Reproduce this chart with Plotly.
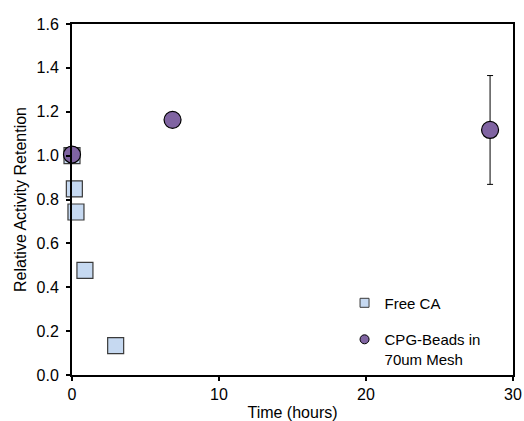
import plotly.graph_objects as go

free_t = [0.0, 0.16, 0.27, 0.88, 2.97]
free_v = [1.0, 0.848, 0.743, 0.477, 0.134]

cpg_t = [0.0, 6.84, 28.44]
cpg_v = [1.005, 1.163, 1.117]
cpg_err = [0.0, 0.0, 0.248]

free_name = "Free CA"
cpg_name = "CPG-Beads in<br>70um Mesh"

sq_fill = "#c6d9f1"
sq_line = "#3a3a3a"
circ_fill = "#8064a2"
FONT = "Liberation Sans, Arial, Helvetica"

fig = go.Figure()
fig.add_trace(go.Scatter(
    x=free_t, y=free_v, mode="markers", showlegend=False, cliponaxis=False,
    marker=dict(symbol="square", size=16, color=sq_fill, line=dict(color=sq_line, width=1.2)),
))
fig.add_trace(go.Scatter(
    x=cpg_t, y=cpg_v, mode="markers", showlegend=False, cliponaxis=False,
    marker=dict(symbol="circle", size=17, color=circ_fill, line=dict(color="black", width=1.2)),
    error_y=dict(type="data", array=cpg_err, visible=True, color="black", thickness=1, width=3),
))
# legend entries
fig.add_trace(go.Scatter(
    x=[None], y=[None], mode="markers", name=free_name, legendgroup="a",
    marker=dict(symbol="square", size=9, color=sq_fill, line=dict(color=sq_line, width=1)),
))
fig.add_trace(go.Scatter(
    x=[None], y=[None], mode="markers", name=cpg_name, legendgroup="b",
    marker=dict(symbol="circle", size=9, color=circ_fill, line=dict(color="black", width=1)),
))

axis_common = dict(
    showline=True, linecolor="black", linewidth=2, mirror=True,
    ticks="outside", ticklen=4, tickwidth=2, tickcolor="black",
    showgrid=False, zeroline=False, automargin=False,
    tickfont=dict(family=FONT, size=16, color="black"),
)
fig.update_xaxes(range=[0, 30], dtick=10, ticklabelstandoff=0,
                 title=dict(text="Time (hours)", standoff=9,
                            font=dict(family=FONT, size=16, color="black")), **axis_common)
fig.update_yaxes(range=[0, 1.6], dtick=0.2, tickformat=".1f", ticklabelstandoff=4,
                 title=dict(text="Relative Activity Retention", standoff=6,
                            font=dict(family=FONT, size=16, color="black")),
                 **axis_common)

fig.update_layout(
    template="none",
    width=524, height=421,
    margin=dict(l=72, r=11, t=24, b=46),
    plot_bgcolor="white", paper_bgcolor="white",
    legend=dict(x=0.618, y=0.252, xanchor="left", yanchor="top", valign="top",
                traceorder="grouped", tracegroupgap=14, itemwidth=30,
                font=dict(family=FONT, size=15, color="black"),
                bgcolor="rgba(0,0,0,0)", borderwidth=0),
)

fig.write_html("out.html", config={"displayModeBar": False},
               post_script="document.body.style.margin='0';")
